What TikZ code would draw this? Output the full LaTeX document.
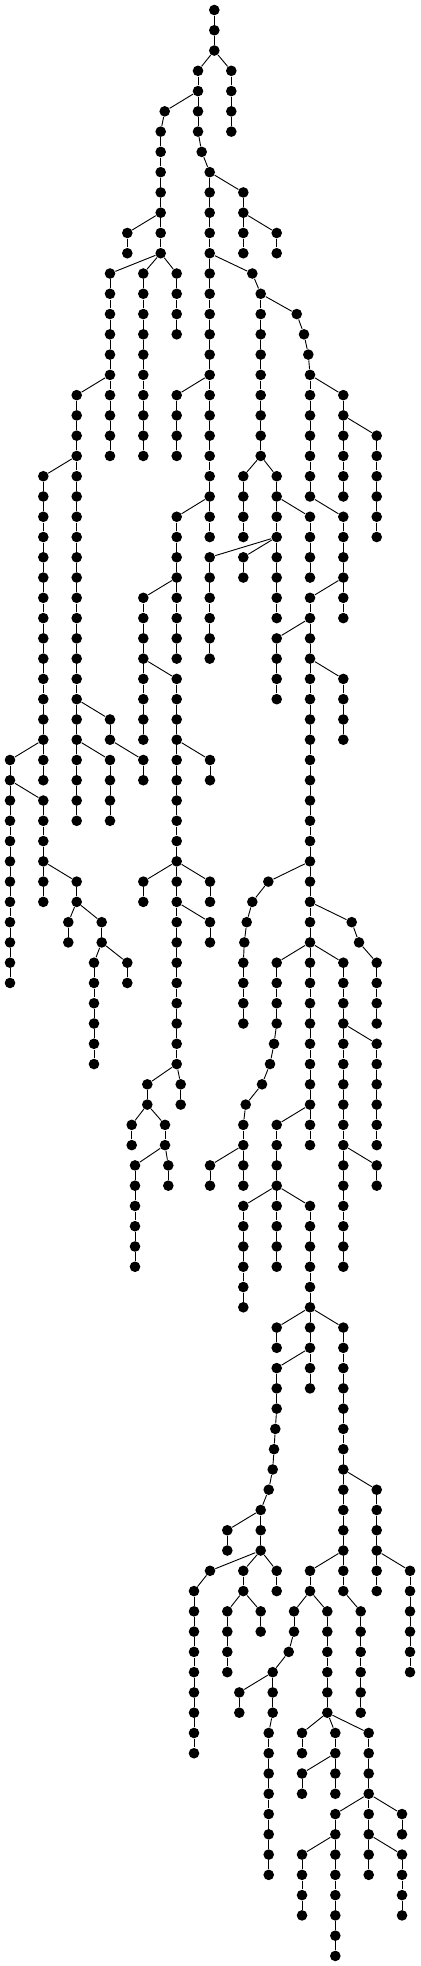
\documentclass[tikz,border=0pt]{standalone}
\newcommand{\twig}[4]{%
  \foreach \l in {#3,...,#4}{%
    \node[vtx] (#1-\l) at (#2,\l) {};
    \ifnum\l>#3 \pgfmathtruncatemacro{\p}{\l-1}\draw (#1-\p) -- (#1-\l);\fi
  }%
}
\begin{document}
\begin{tikzpicture}[x=0.05cm, y=-1.0135cm, line width=1.3pt,
    vtx/.style={circle, fill=black, inner sep=0pt, minimum size=0.53cm}]
  \useasboundingbox (0,-0.4933) rectangle (420,96.497);
  % top part
  \twig{a}{214.3}{0}{2}   \twig{b}{231.3}{3}{6}   \twig{c}{198}{3}{6}
  \twig{d}{201.7}{7}{7}   \twig{e}{209.7}{8}{26}  \twig{f}{164.7}{5}{5}
  \twig{g}{160.7}{6}{12}  \twig{h}{127.3}{11}{12} \twig{i}{243.3}{9}{12}
  \twig{j}{276.7}{11}{12} \twig{k}{110}{13}{22}   \twig{l}{143.3}{13}{22}
  \twig{m}{176.7}{13}{16} \twig{n}{252.3}{13}{13} \twig{o}{260.7}{14}{22}
  \twig{p}{296.7}{15}{15} \twig{q}{304}{16}{16}   \twig{r}{308.3}{17}{17}
  \twig{s}{310}{18}{24}   \twig{t}{343.3}{19}{24} \twig{u}{376.7}{21}{26}
  % left part
  \twig{v}{76.7}{19}{40}  \twig{w}{43.3}{23}{38}  \twig{x}{10}{37}{48}
  \twig{y}{43.3}{39}{44}  \twig{z}{76.7}{43}{44}  \twig{aa}{68.3}{45}{46}
  \twig{ab}{101.7}{45}{46} \twig{ac}{94}{47}{52}  \twig{ad}{127.3}{47}{48}
  \twig{ae}{110}{35}{36}  \twig{af}{143.3}{37}{38} \twig{ag}{110}{37}{40}
  \twig{ah}{176.7}{19}{22} \twig{ai}{176.7}{25}{32} \twig{aj}{143.3}{29}{36}
  \twig{ak}{176.7}{33}{52} \twig{al}{210}{37}{38}  \twig{am}{143.3}{43}{44}
  \twig{an}{210}{43}{44}  \twig{ao}{210}{45}{46}  \twig{ap}{147.3}{53}{54}
  \twig{aq}{180.7}{53}{54} \twig{ar}{131.7}{55}{56} \twig{as}{165}{55}{56}
  \twig{at}{135}{57}{62}  \twig{au}{168.3}{57}{58}
  % right part
  \twig{av}{243.3}{23}{26} \twig{aw}{276.7}{23}{30} \twig{ax}{310}{25}{28}
  \twig{ay}{209.7}{27}{32} \twig{az}{243.3}{27}{28} \twig{ba}{343.3}{25}{30}
  \twig{bb}{310}{29}{56}  \twig{bc}{276.7}{31}{34} \twig{bd}{343.3}{33}{36}
  \twig{be1}{268.3}{43}{43} \twig{be2}{252.3}{44}{44} \twig{be3}{246.7}{45}{45}
  \twig{be4}{244.3}{46}{46} \twig{be}{243.3}{47}{50}
  \twig{bf1}{351.7}{45}{45} \twig{bf2}{359}{46}{46} \twig{bf}{376.7}{47}{50}
  \twig{bg}{276.7}{47}{50} \twig{bg1}{274}{51}{51} \twig{bg2}{270}{52}{52}
  \twig{bg3}{262}{53}{53} \twig{bg4}{245.7}{54}{54} \twig{bg5}{243.3}{55}{58}
  \twig{bh}{210}{57}{58}  \twig{bi}{343.3}{47}{62} \twig{bj}{376.7}{51}{56}
  \twig{bk}{376.7}{57}{58} \twig{bl}{276.7}{55}{58}
  % bottom part
  \twig{bm}{243.3}{59}{64} \twig{bn}{276.7}{59}{62} \twig{bo}{310}{59}{68}
  \twig{bp}{276.7}{65}{66} \twig{bq}{343.3}{65}{78} \twig{br}{276.7}{67}{69}
  \twig{br1}{275.3}{70}{70} \twig{br2}{274}{71}{71} \twig{br3}{272.7}{72}{72}
  \twig{br4}{268.7}{73}{73} \twig{br5}{260.7}{74}{76} \twig{bs}{227.3}{75}{76}
  \twig{bt1}{210}{77}{77} \twig{bt}{194}{78}{86}  \twig{bu}{243.3}{77}{78}
  \twig{bv}{276.7}{77}{78} \twig{bw}{376.7}{73}{78} \twig{bx}{410}{77}{82}
  \twig{by}{310}{77}{78}  \twig{bz}{360.7}{79}{84} \twig{ca}{227.3}{79}{82}
  \twig{cb}{260.7}{79}{80} \twig{cc}{294}{79}{80}  \twig{cc1}{288.7}{81}{81}
  \twig{cd}{272.7}{82}{84} \twig{ce}{268.7}{85}{92} \twig{cf}{239.3}{83}{84}
  \twig{cg}{327.3}{79}{84} \twig{ch}{302}{85}{86}  \twig{ci}{335.3}{85}{88}
  \twig{cj}{368.7}{85}{92} \twig{ck}{302}{87}{88}  \twig{cl}{335.3}{89}{96}
  \twig{cm}{402}{89}{90}  \twig{cn}{402}{91}{94}  \twig{co}{302}{91}{94}
  % links between the twigs
  \foreach \u/\v in {a-2/b-3, a-2/c-3, c-6/d-7, d-7/e-8, c-4/f-5, f-5/g-6,
      g-10/h-11, e-8/i-9, i-10/j-11, g-12/k-13, g-12/l-13, g-12/m-13,
      e-12/n-13, n-13/o-14, o-14/p-15, p-15/q-16, q-16/r-17, r-17/s-18,
      s-18/t-19, t-20/u-21, k-18/v-19, v-22/w-23, w-36/x-37, x-38/y-39,
      y-42/z-43, z-44/aa-45, z-44/ab-45, ab-46/ac-47, ab-46/ad-47,
      v-34/ae-35, ae-36/af-37, v-36/ag-37, e-18/ah-19, e-24/ai-25,
      ai-28/aj-29, aj-32/ak-33, ak-36/al-37, ak-42/am-43, ak-42/an-43,
      ak-44/ao-45, ak-52/ap-53, ak-52/aq-53, ap-54/ar-55, ap-54/as-55,
      as-56/at-57, as-56/au-57, o-22/av-23, o-22/aw-23, aw-24/ax-25,
      aw-26/ay-27, aw-26/az-27, s-24/ba-25, ba-28/bb-29, bb-30/bc-31,
      bb-32/bd-33, bb-42/be1-43, be1-43/be2-44, be2-44/be3-45,
      be3-45/be4-46, be4-46/be-47, bb-44/bf1-45, bf1-45/bf2-46,
      bf2-46/bf-47, bb-46/bg-47, bg-50/bg1-51, bg1-51/bg2-52,
      bg2-52/bg3-53, bg3-53/bg4-54, bg4-54/bg5-55, bg5-56/bh-57,
      bb-46/bi-47, bi-50/bj-51, bi-56/bk-57, bb-54/bl-55, bl-58/bm-59,
      bl-58/bn-59, bl-58/bo-59, bo-64/bp-65, bo-64/bq-65, bo-66/br-67,
      br-69/br1-70, br1-70/br2-71, br2-71/br3-72, br3-72/br4-73,
      br4-73/br5-74, br5-74/bs-75, br5-76/bt1-77, bt1-77/bt-78,
      br5-76/bu-77, br5-76/bv-77, bq-72/bw-73, bw-76/bx-77, bq-76/by-77,
      bq-78/bz-79, bu-78/ca-79, bu-78/cb-79, by-78/cc-79, cc-80/cc1-81,
      cc1-81/cd-82, cd-84/ce-85, cd-82/cf-83, by-78/cg-79, cg-84/ch-85,
      cg-84/ci-85, cg-84/cj-85, ci-86/ck-87, cj-88/cl-89, cj-88/cm-89,
      cj-90/cn-91, cl-90/co-91}
    \draw (\u) -- (\v);
\end{tikzpicture}
\end{document}
